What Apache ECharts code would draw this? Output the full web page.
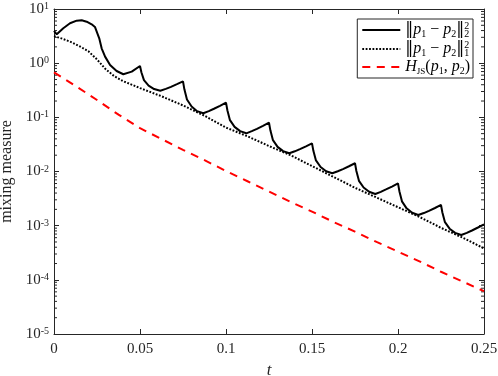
<!DOCTYPE html>
<html>
<head>
<meta charset="utf-8">
<script src="https://cdn.jsdelivr.net/npm/echarts@6/dist/echarts.min.js"></script>
<style>html,body{margin:0;padding:0;background:#fff;}#c{width:498px;height:376px;}</style>
</head>
<body>
<div id="c"></div>
<script>
// ---- data ----
const seriesNames = ['l2', 'l1', 'js'];
const xTicks = [0, 0.05, 0.1, 0.15, 0.2, 0.25];
const yTickExponents = [-5, -4, -3, -2, -1, 0, 1];

const tL2 = [0, 0.0016, 0.0054, 0.0093, 0.0132, 0.0161, 0.019, 0.0219, 0.0238, 0.0248, 0.0263, 0.0277, 0.0297, 0.0326, 0.0364, 0.0403, 0.0452,
  0.05, 0.0508, 0.0523, 0.055, 0.0582, 0.0618, 0.065, 0.068, 0.0715,
  0.075, 0.0758, 0.0773, 0.080, 0.0832, 0.0868, 0.090, 0.093, 0.0965,
  0.1, 0.1008, 0.1023, 0.105, 0.1082, 0.1118, 0.115, 0.118, 0.1215,
  0.125, 0.1258, 0.1273, 0.130, 0.1332, 0.1368, 0.140, 0.143, 0.1465,
  0.15, 0.1508, 0.1523, 0.155, 0.1582, 0.1618, 0.165, 0.168, 0.1715,
  0.175, 0.1758, 0.1773, 0.180, 0.1832, 0.1868, 0.190, 0.193, 0.1965,
  0.2, 0.2008, 0.2023, 0.205, 0.2082, 0.2118, 0.215, 0.218, 0.2215,
  0.225, 0.2258, 0.2273, 0.230, 0.2332, 0.2368, 0.240, 0.243, 0.2465, 0.25];
const vL2 = [3.93, 3.41, 4.41, 5.45, 6.10, 6.18, 5.83, 5.21, 4.66, 4.41, 2.88, 1.88, 1.32, 0.925, 0.716, 0.624, 0.697,
  0.887, 0.681, 0.486, 0.385, 0.333, 0.309, 0.335, 0.366, 0.410,
  0.462, 0.329, 0.213, 0.158, 0.130, 0.119, 0.130, 0.144, 0.163,
  0.187, 0.135, 0.0887, 0.0667, 0.0556, 0.0507, 0.0555, 0.0612, 0.0695,
  0.0796, 0.0575, 0.0379, 0.0285, 0.0238, 0.0217, 0.0236, 0.0259, 0.0292,
  0.0331, 0.0241, 0.0160, 0.0121, 0.0101, 0.00927, 0.0101, 0.0111, 0.0125,
  0.0142, 0.0102, 0.00673, 0.00506, 0.00422, 0.00385, 0.00421, 0.00466, 0.00528,
  0.00605, 0.00433, 0.00281, 0.00209, 0.00173, 0.00157, 0.00171, 0.00188, 0.00212,
  0.00241, 0.00175, 0.00116, 0.000879, 0.000736, 0.000673, 0.000736, 0.000815, 0.000925, 0.00106];

const tL1 = [0, 0.005, 0.01, 0.015, 0.02, 0.025, 0.03, 0.035, 0.04, 0.05, 0.0625, 0.075, 0.0875, 0.1, 0.1125, 0.125, 0.1375, 0.15, 0.1625, 0.175, 0.1875, 0.2, 0.2125, 0.225, 0.2375, 0.25];
const vL1 = [3.16, 2.82, 2.45, 2.04, 1.66, 1.17, 0.776, 0.575, 0.468, 0.347, 0.245, 0.166, 0.107, 0.0646, 0.0447, 0.0295, 0.0200, 0.0126, 0.00794, 0.00501, 0.00331, 0.00219, 0.00145, 0.000912, 0.000603, 0.000380];

const tJS = [0, 0.0125, 0.025, 0.0375, 0.05, 0.0625, 0.075, 0.0875, 0.1, 0.1125, 0.125, 0.1375, 0.15, 0.1625, 0.175, 0.1875, 0.2, 0.2125, 0.225, 0.2375, 0.25];
const vJS = [0.676, 0.380, 0.209, 0.112, 0.0631, 0.0398, 0.0251, 0.0162, 0.0102, 0.00661, 0.00427, 0.00275, 0.00182, 0.00117, 0.000776, 0.000501, 0.000331, 0.000219, 0.000141, 0.0000933, 0.0000617];

// ---- build ----
const zip = (a, b) => a.map((x, i) => [x, b[i]]);
const minorTicks = [];
for (let e = -5; e < 1; e++) for (let k = 2; k <= 9; k++) minorTicks.push([0, k * Math.pow(10, e)]);

const AX = '#262626';
const SERIF = "'Liberation Serif', 'DejaVu Serif', serif";

const legendRich = {
  n: { fontFamily: SERIF, fontSize: 16, lineHeight: 18, color: '#000' },
  b: { fontFamily: "'DejaVu Serif', serif", fontSize: 16, lineHeight: 18, color: '#000' },
  i: { fontFamily: SERIF, fontStyle: 'italic', fontSize: 16, lineHeight: 18, color: '#000' },
  s: { fontFamily: SERIF, fontSize: 10, lineHeight: 10, verticalAlign: 'bottom', color: '#000' },
  sp: { fontFamily: SERIF, fontSize: 10, lineHeight: 10, verticalAlign: 'top', color: '#000', width: 0 },
  sc: { fontFamily: SERIF, fontSize: 9, lineHeight: 10, verticalAlign: 'bottom', color: '#000' }
};
const legendLabels = {
  l2: '{b|‖}{i|p}{s|1}{n| − }{i|p}{s|2}{b|‖}{sp|2}{s|2}',
  l1: '{b|‖}{i|p}{s|1}{n| − }{i|p}{s|2}{b|‖}{sp|2}{s|1}',
  js: '{i|H}{sc|JS}{n|(}{i|p}{s|1}{n|, }{i|p}{s|2}{n|)}'
};

const chart = echarts.init(document.getElementById('c'), null, { renderer: 'canvas' });
chart.setOption({
  animation: false,
  backgroundColor: '#fff',
  grid: { left: 54, right: 14, top: 9, bottom: 42, containLabel: false, outerBoundsMode: 'none' },
  legend: {
    data: seriesNames,
    orient: 'vertical',
    right: 25,
    top: 19,
    itemWidth: 38,
    itemHeight: 10,
    itemGap: 1,
    padding: [2, 3, 2, 4],
    borderColor: AX,
    borderWidth: 1,
    backgroundColor: '#fff',
    itemStyle: { opacity: 0 },
    formatter: name => legendLabels[name],
    textStyle: { rich: legendRich }
  },
  xAxis: [{
    type: 'value', min: 0, max: 0.25, interval: 0.05,
    name: 't', nameLocation: 'middle', nameGap: 26,
    nameTextStyle: { fontFamily: SERIF, fontStyle: 'italic', fontSize: 17, color: AX },
    axisLine: { show: true, lineStyle: { color: AX, width: 1 } },
    axisTick: { inside: true, length: 5, lineStyle: { color: AX } },
    axisLabel: { margin: 8, fontFamily: SERIF, fontSize: 15, color: AX },
    splitLine: { show: false }
  }, {
    type: 'value', min: 0, max: 0.25, interval: 0.05, position: 'top',
    axisLine: { show: true, onZero: false, lineStyle: { color: AX, width: 1 } },
    axisTick: { inside: true, length: 5, lineStyle: { color: AX } },
    axisLabel: { show: false },
    splitLine: { show: false }
  }],
  yAxis: [{
    type: 'log', logBase: 10, min: 1e-5, max: 10,
    name: 'mixing measure', nameLocation: 'middle', nameGap: 37,
    nameTextStyle: { fontFamily: SERIF, fontSize: 16, color: AX },
    axisLine: { show: true, lineStyle: { color: AX, width: 1 } },
    axisTick: { inside: true, length: 5, lineStyle: { color: AX } },
    axisLabel: {
      margin: 5, color: AX,
      formatter: v => '{b|10}{e|' + Math.round(Math.log10(v)) + '}',
      rich: {
        b: { fontFamily: SERIF, fontSize: 15, lineHeight: 15, color: AX },
        e: { fontFamily: SERIF, fontSize: 10, lineHeight: 10, verticalAlign: 'top', color: AX }
      }
    },
    splitLine: { show: false }
  }, {
    type: 'log', logBase: 10, min: 1e-5, max: 10, position: 'right',
    axisLine: { show: true, onZero: false, lineStyle: { color: AX, width: 1 } },
    axisTick: { inside: true, length: 5, lineStyle: { color: AX } },
    axisLabel: { show: false },
    splitLine: { show: false }
  }],
  series: [{
    name: 'l2', type: 'line', data: zip(tL2, vL2), showSymbol: false, symbol: 'none', symbolSize: 0,
    lineStyle: { color: '#000', width: 2 }, itemStyle: { color: '#000' }, z: 3
  }, {
    name: 'l1', type: 'line', data: zip(tL1, vL1), showSymbol: false, symbol: 'none', symbolSize: 0,
    lineStyle: { color: '#000', width: 2, type: [1.8, 1.6] }, itemStyle: { color: '#000' }, z: 2
  }, {
    name: 'js', type: 'line', data: zip(tJS, vJS), showSymbol: false, symbol: 'none', symbolSize: 0,
    lineStyle: { color: '#ff0000', width: 2, type: [8, 6.5] }, itemStyle: { color: '#ff0000' }, z: 2
  }, {
    name: 'minor', type: 'custom', silent: true, data: minorTicks, encode: { x: 0, y: 1 },
    clip: false,
    renderItem: (params, api) => {
      const v = api.value(1);
      const pl = api.coord([0, v]);
      const pr = api.coord([0.25, v]);
      const st = { stroke: AX, lineWidth: 1 };
      return {
        type: 'group', children: [
          { type: 'line', shape: { x1: pl[0], y1: pl[1], x2: pl[0] + 3, y2: pl[1] }, style: st },
          { type: 'line', shape: { x1: pr[0], y1: pr[1], x2: pr[0] - 3, y2: pr[1] }, style: st }
        ]
      };
    }
  }]
});
</script>
</body>
</html>
